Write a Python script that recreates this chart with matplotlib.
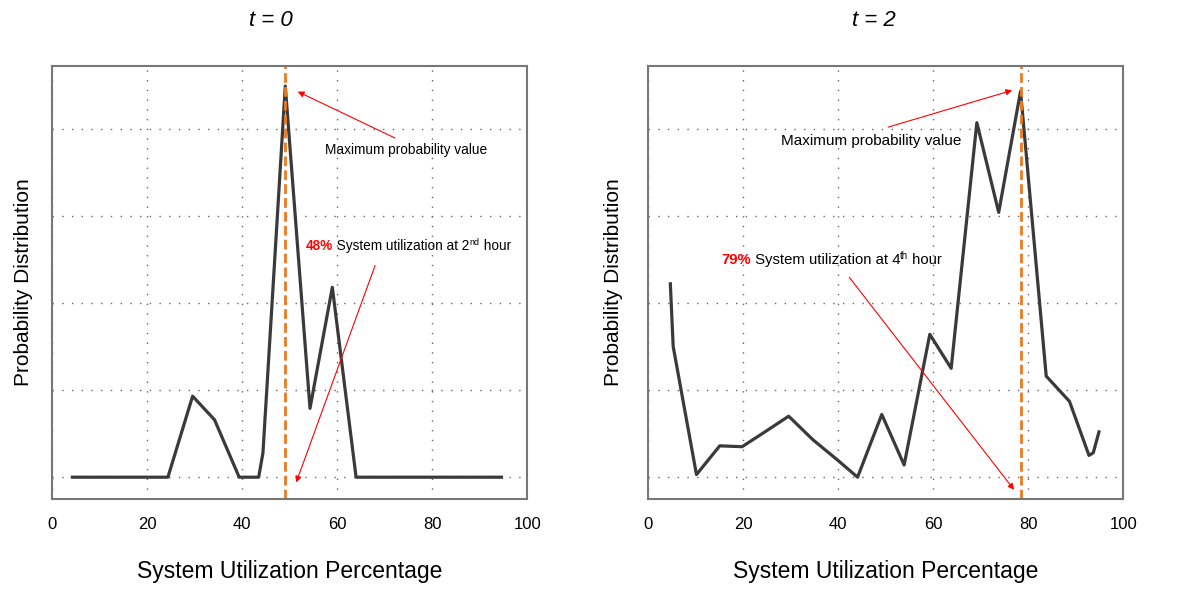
import matplotlib
matplotlib.use("Agg")
import matplotlib.pyplot as plt

plt.rcParams['font.family'] = ['Liberation Sans', 'DejaVu Sans']

# data (x = utilization %, y = relative probability)
x_t0 = [4.3, 24.4, 29.6, 34.2, 39.4, 43.5, 44.4, 49.1, 54.3, 59.0, 64.0, 94.6]
y_t0 = [0.0, 0.0, 0.93, 0.66, 0.0, 0.0, 0.28, 4.49, 0.79, 2.18, 0.0, 0.0]

x_t2 = [4.7, 5.3, 10.2, 15.1, 19.8, 24.6, 29.6, 34.7, 39.6, 44.1, 49.2, 53.9,
        59.3, 63.8, 69.2, 73.8, 78.4, 83.8, 88.7, 92.8, 93.7, 94.9]
y_t2 = [2.22, 1.50, 0.03, 0.36, 0.35, 0.52, 0.70, 0.43, 0.21, 0.0, 0.72, 0.14,
        1.64, 1.25, 4.07, 3.04, 4.43, 1.16, 0.87, 0.25, 0.28, 0.52]

peak_t0 = 49.1
peak_t2 = 78.4
titles = ['t = 0', 't = 2']
pct_labels = ['48%', '79%']
hour_nums = ['2', '4']
hour_sups = ['nd', 'th']
xticks = [0, 20, 40, 60, 80, 100]

fig = plt.figure(figsize=(12, 5.98), dpi=100)
ax1 = fig.add_axes([0.0433, 0.1656, 0.396, 0.724])
ax2 = fig.add_axes([0.540, 0.1656, 0.396, 0.724])

arrow = dict(arrowstyle='-|>', color='red', lw=0.8, mutation_scale=9)


def util_label(ax, x, y, pct, num, sup, fs):
    # red bold percentage followed by black text with a raised ordinal
    t = ax.text(x, y, pct, color='red', fontweight='bold', fontsize=fs,
                ha='left', va='bottom')
    t = ax.annotate(' System utilization at ' + num, xy=(1, 0), xycoords=t,
                    va='bottom', fontsize=fs)
    s = ax.annotate(sup, xy=(1, 0.45), xycoords=t, va='bottom',
                    fontsize=fs * 0.65)
    ax.annotate(' hour', xy=(1, 0), xycoords=t, va='bottom', fontsize=fs,
                xytext=(s.get_window_extent(fig.canvas.get_renderer()).width, 0),
                textcoords='offset pixels')


for ax, xs, ys, peak, title, tx, lx in [(ax1, x_t0, y_t0, peak_t0, titles[0], 0.46, -0.04),
                                        (ax2, x_t2, y_t2, peak_t2, titles[1], 0.475, -0.053)]:
    ax.plot(xs, ys, color='#3a3a3a', lw=2.3, solid_joinstyle='round')
    ax.axvline(peak, color='#ec7a1f', lw=2, ls=(0, (3.5, 1.5)))
    ax.set_xlim(0, 100)
    ax.set_ylim(-0.25, 4.72)
    ax.set_xticks(xticks)
    ax.set_yticks([0, 1, 2, 3, 4])
    ax.set_yticklabels([])
    ax.tick_params(axis='both', length=0, labelsize=12, pad=13)
    ax.grid(True, ls=(0, (1, 6)), color='#666666', lw=1)
    for s in ax.spines.values():
        s.set_color('#777777')
        s.set_linewidth(1.5)
    ax.set_xlabel('System Utilization Percentage', fontsize=16.5, labelpad=20)
    ax.set_ylabel('Probability Distribution', fontsize=15)
    ax.yaxis.set_label_coords(lx, 0.5)
    ax.set_title(title, fontsize=16, style='italic', x=tx, pad=29)

# left panel annotations
ax1.annotate('', xy=(51.2, 4.44), xytext=(72.7, 3.88), arrowprops=arrow)
ax1.text(74.6, 3.76, 'Maximum probability value', fontsize=9.8,
         ha='center', va='center')
util_label(ax1, 53.5, 2.57, pct_labels[0], hour_nums[0], hour_sups[0], 9.8)
ax1.annotate('', xy=(51.2, -0.09), xytext=(68.2, 2.46), arrowprops=arrow)

# right panel annotations
ax2.annotate('', xy=(77.2, 4.45), xytext=(50.0, 4.01), arrowprops=arrow)
ax2.text(47.0, 3.86, 'Maximum probability value', fontsize=11,
         ha='center', va='center')
util_label(ax2, 15.4, 2.41, pct_labels[1], hour_nums[1], hour_sups[1], 10.7)
ax2.annotate('', xy=(77.4, -0.17), xytext=(42.0, 2.32), arrowprops=arrow)

fig.savefig('out.png', dpi=100)
